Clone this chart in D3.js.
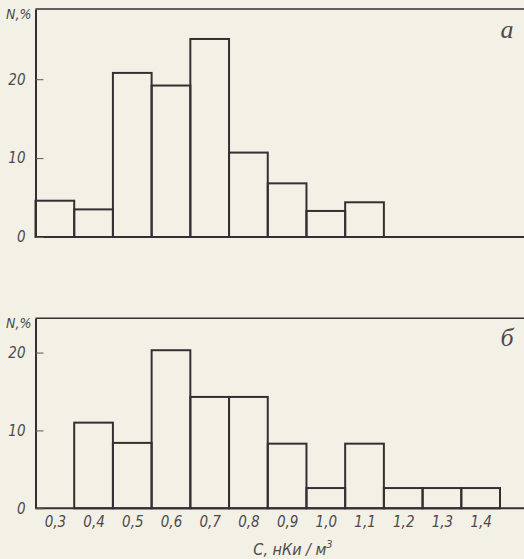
<!DOCTYPE html>
<html>
<head>
<meta charset="utf-8">
<script src="https://cdn.jsdelivr.net/npm/d3@7"></script>
<style>
	body { margin: 0; background: #f3f1e6; }
	svg { display: block; }
	.tick text, .lbl { font-family: "DejaVu Sans Condensed", "DejaVu Sans", sans-serif; font-style: italic; font-weight: 300; fill: #4d4a4c; }
	.panel_letter { font-family: "Liberation Serif", serif; font-style: italic; fill: #4d4a4c; }
</style>
</head>
<body>
<div id="___histo"></div>
<script>
// Bin centres, C (nCi/m3)
var bins = [0.3, 0.4, 0.5, 0.6, 0.7, 0.8, 0.9, 1.0, 1.1, 1.2, 1.3, 1.4];
// panel a: share of cases, %
var values_a = [4.6, 3.5, 20.8, 19.2, 25.1, 10.7, 6.8, 3.3, 4.4];
// panel b: share of cases, %
var values_b = [0, 11.0, 8.4, 20.3, 14.3, 14.3, 8.3, 2.6, 8.3, 2.6, 2.6, 2.6];
var yTicks = [0, 10, 20];

var ru = d3.formatLocale({ decimal: ",", thousands: " ", grouping: [3], currency: ["", " руб."] });
var fmt = ru.format(".1f");

var W = 524, H = 559;
var ink = "#333033";

var svg = d3.select("#___histo")
	.append("svg")
	.attr("width", W)
	.attr("height", H);

// shared x scale (bin edges 0.25 .. 1.45)
var x = d3.scaleLinear()
	.domain([0.25, 1.45])
	.range([35.5, 500]);
var bw = 0.1;

function panel(vals, top, base, yMax, letter, letterY) {
	var y = d3.scaleLinear()
		.domain([0, yMax])
		.range([base, top]);

	var g = svg.append("g");

	// frame: top line and baseline run off to the right edge
	g.append("line")
		.attr("x1", x(0.25)).attr("x2", W)
		.attr("y1", y(yMax)).attr("y2", y(yMax))
		.attr("stroke", ink).attr("stroke-width", 1.6);

	// bars
	g.append("g")
		.selectAll("rect")
		.data(vals)
		.enter()
		.append("rect")
		.attr("x", function (d, i) { return x(bins[i] - bw / 2); })
		.attr("width", function (d, i) { return x(bins[i] + bw / 2) - x(bins[i] - bw / 2); })
		.attr("y", function (d) { return y(d); })
		.attr("height", function (d) { return y(0) - y(d); })
		.attr("fill", "none")
		.attr("stroke", ink)
		.attr("stroke-width", 2)
		.style("display", function (d) { return d > 0 ? null : "none"; });

	g.append("line")
		.attr("x1", x(0.25)).attr("x2", W)
		.attr("y1", y(0)).attr("y2", y(0))
		.attr("stroke", ink).attr("stroke-width", 2);

	// y axis, ticks pointing inwards
	var ax = g.append("g")
		.attr("transform", "translate(" + x(0.25) + ",0)")
		.call(d3.axisLeft(y).tickValues(yTicks).tickSizeInner(-8).tickSizeOuter(0).tickPadding(10));
	ax.select(".domain").attr("stroke", ink).attr("stroke-width", 2);
	ax.selectAll(".tick line").attr("stroke", "#5a5a5a").attr("stroke-width", 1);
	ax.selectAll(".tick text").style("font-size", "15px");

	g.append("text")
		.attr("class", "lbl")
		.attr("x", 6)
		.attr("y", top + 10)
		.style("font-size", "14px")
		.text("N,%");

	g.append("text")
		.attr("class", "panel_letter")
		.attr("x", 507)
		.attr("y", letterY)
		.attr("text-anchor", "middle")
		.style("font-size", "26px")
		.text(letter);

	return y;
}

panel(values_a, 9, 237, 28.9, "а", 38);
panel(values_b, 318.3, 508.3, 24.4, "б", 346);

// x axis labels under the lower panel
var xa = svg.append("g")
	.attr("transform", "translate(0,512)")
	.call(d3.axisBottom(x).tickValues(bins).tickFormat(fmt).tickSize(0).tickPadding(4));
xa.select(".domain").remove();
xa.selectAll(".tick text").style("font-size", "15px");

var title = svg.append("text")
	.attr("class", "lbl")
	.attr("x", 293)
	.attr("y", 555)
	.attr("text-anchor", "middle")
	.style("font-size", "16px");
title.append("tspan").text("С, нКи / м");
title.append("tspan").attr("dy", -7).style("font-size", "11px").text("3");
</script>
</body>
</html>
